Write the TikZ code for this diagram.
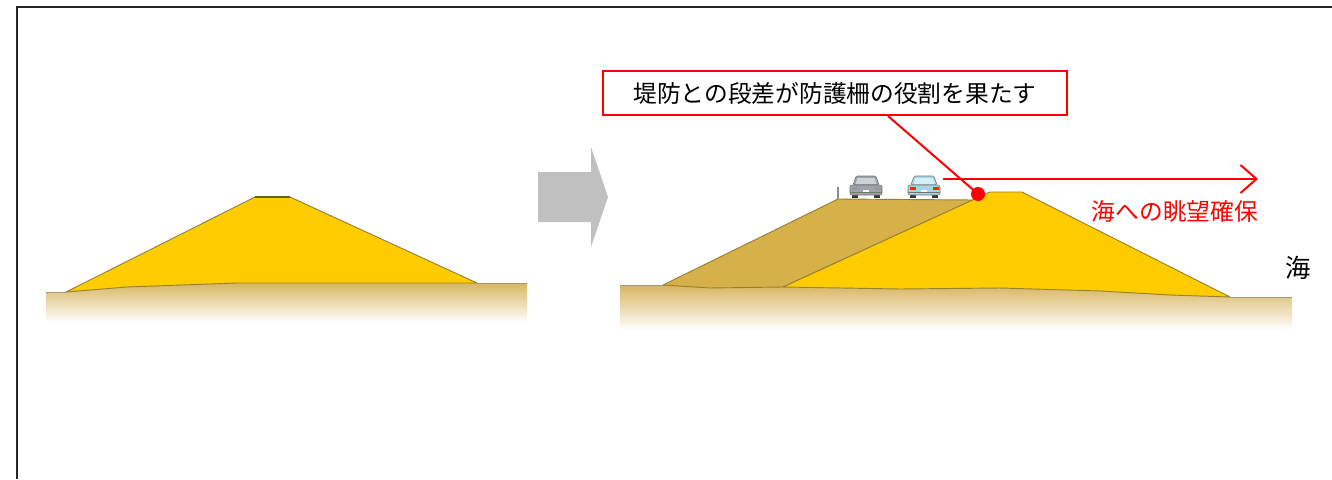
\documentclass[tikz,border=0pt]{standalone}
\usepackage{fontspec}
\newfontfamily\jp{Noto Sans CJK JP}
\usetikzlibrary{arrows.meta}

\definecolor{dikeyellow}{RGB}{255,204,0}
\definecolor{olddike}{RGB}{214,176,72}
\definecolor{dikeedge}{RGB}{150,128,50}
\definecolor{soil}{RGB}{216,182,98}
\definecolor{soilline}{RGB}{160,150,120}
\definecolor{alert}{RGB}{255,0,0}
\definecolor{arrowgray}{RGB}{192,192,192}
\definecolor{cargray}{RGB}{158,164,170}
\definecolor{cargrayglass}{RGB}{205,210,215}
\definecolor{carblue}{RGB}{170,211,227}
\definecolor{carblueglass}{RGB}{214,238,246}

\tikzset{
  frameline/.style={line width=1.5pt, black!85},
  dike/.style={fill=dikeyellow, draw=dikeedge, line width=0.7pt, line join=round},
  oldbody/.style={fill=olddike, draw=dikeedge, line width=0.7pt, line join=round},
  groundline/.style={draw=soilline, line width=0.6pt},
  soilband/.style={top color=soil, bottom color=white},
  redline/.style={draw=alert, line width=1.5pt},
  calloutbox/.style={draw=alert, line width=1.5pt, fill=white, inner sep=0pt,
    minimum width=348pt, minimum height=33pt, font=\jp\fontsize{17.8pt}{18pt}\selectfont},
  redlabel/.style={text=alert, inner sep=0pt, font=\jp\fontsize{17.8pt}{18pt}\selectfont},
  sealabel/.style={inner sep=0pt, font=\jp\fontsize{19pt}{19pt}\selectfont},
  % rear view of a car; origin at the top-left corner, 34 x 23 units
  pics/car/.style n args={3}{code={
    \fill[black!80] (3,18) rectangle (9,23);
    \fill[black!80] (25,18) rectangle (31,23);
    \filldraw[fill=#1, draw=black!55, line width=0.4pt, rounded corners=1pt]
      (4,10) -- (7,1) -- (27,1) -- (30,10) -- cycle;
    \filldraw[fill=#1, draw=black!55, line width=0.4pt, rounded corners=1.5pt]
      (1,10) rectangle (33,20);
    \fill[#2] (6.5,9) -- (8.5,3) -- (25.5,3) -- (27.5,9) -- cycle;
    \fill[#3] (2.5,12) rectangle (8.5,15);
    \fill[#3] (25.5,12) rectangle (31.5,15);
    \fill[white] (14,15) rectangle (20,18);
    \draw[black!55, line width=0.4pt] (1,17.5) -- (33,17.5);
  }}
}

\begin{document}
\begin{tikzpicture}[x=0.75pt, y=-0.75pt]
\useasboundingbox (0,0) rectangle (1332,479);

% frame
\draw[frameline] (17,479) -- (17,7) -- (1332,7);

% ---------- present dike ----------
\shade[soilband] (46,292) -- (66,292) -- (127,287) -- (237,283) -- (363,283)
  -- (477,283) -- (527,283) -- (527,322) -- (46,322) -- cycle;
\draw[groundline] (46,292) -- (66,292);
\draw[groundline] (477,283) -- (527,283);
\draw[dike] (66,292) -- (255,197) -- (290,197) -- (477,283) -- (363,283)
  -- (237,283) -- (127,287) -- cycle;
\draw[dikeedge!70!black, line width=1pt] (255,197) -- (290,197);

% transition arrow
\fill[arrowgray] (538,172) -- (591,172) -- (591,147) -- (608,197)
  -- (591,247) -- (591,222) -- (538,222) -- cycle;

% ---------- raised dike ----------
\shade[soilband] (620,285) -- (663,285) -- (710,288) -- (783,287) -- (900,289)
  -- (1000,288) -- (1100,291) -- (1170,295) -- (1230,297) -- (1292,297)
  -- (1292,330) -- (620,330) -- cycle;
\draw[groundline] (620,285) -- (663,285);
\draw[groundline] (1230,297) -- (1292,297);

% old dike used as the road embankment
\draw[oldbody] (663,285) -- (838,199) -- (973,200) -- (783,287) -- (710,288) -- cycle;
% new dike
\draw[dike] (783,287) -- (990,192) -- (1022,192) -- (1230,297) -- (1170,295)
  -- (1100,291) -- (1000,288) -- (900,289) -- cycle;

% road post and cars
\draw[black!45, line width=1pt] (838,187) -- (838,199);
\pic at (849,175) {car={cargray}{cargrayglass}{black!40}};
\pic at (907,175) {car={carblue}{carblueglass}{red!70!orange}};

% callout
\node[calloutbox] (callout) at (835,93) {堤防との段差が防護柵の役割を果たす};
\node[circle, fill=alert, inner sep=0pt, minimum size=10.5pt] (dot) at (978,194) {};
\draw[redline] (callout.south) ++(53,0) -- (dot.center);

% view to the sea
\coordinate (viewfrom) at (943,179);
\coordinate (viewto) at (1258,179);
\draw[redline, -{Straight Barb[length=12pt, width=21pt, line width=1.5pt]}]
  (viewfrom) -- (viewto);
\node[redlabel] (viewlabel) at (1175,211) {海への眺望確保};

\node[sealabel] (sea) at (1298,268) {海};
\end{tikzpicture}
\end{document}
